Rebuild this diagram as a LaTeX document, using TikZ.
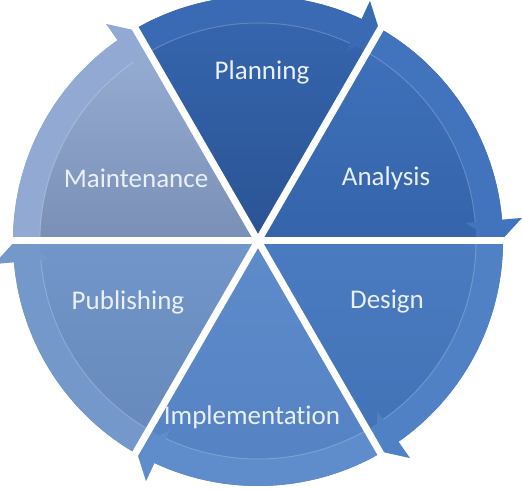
\documentclass[tikz,border=0pt]{standalone}
\usepackage{fontspec}
\setmainfont{Carlito}[Ligatures=NoCommon]
\usetikzlibrary{positioning}
\definecolor{phaseText}{HTML}{EAF0FA}
\definecolor{planTop}{HTML}{3768B2}
\definecolor{planBot}{HTML}{2A5393}
\definecolor{planBand}{HTML}{3A6AB4}
\definecolor{anaTop}{HTML}{3F72BC}
\definecolor{anaBot}{HTML}{3464AA}
\definecolor{anaBand}{HTML}{4273BD}
\definecolor{desTop}{HTML}{4A7BC0}
\definecolor{desBot}{HTML}{4272B6}
\definecolor{desBand}{HTML}{5181C5}
\definecolor{impTop}{HTML}{5E8BCA}
\definecolor{impBot}{HTML}{5381C2}
\definecolor{impBand}{HTML}{5F8CCA}
\definecolor{pubTop}{HTML}{7296C9}
\definecolor{pubBot}{HTML}{6688BB}
\definecolor{pubBand}{HTML}{7598CB}
\definecolor{mainTop}{HTML}{98AFD6}
\definecolor{mainBot}{HTML}{7A8FB6}
\definecolor{mainBand}{HTML}{92AAD3}

\begin{document}
\begin{tikzpicture}[
    x=1pt, y=1pt,
    every node/.style={font=\fontsize{27}{32}\selectfont},
    phase/.style={text=phaseText, inner sep=0pt},
    band/.style={fill=#1},
    rim/.style={draw=white, draw opacity=0.2, line width=1pt},
    gap/.style={draw=white, line width=7pt},
]
    \useasboundingbox (0,0) rectangle (522,489);

    \begin{scope}[shift={(258,248)}]
    % Planning (top)
    \shade[top color=planTop, bottom color=planBot] (0,0) -- (120:245) arc[start angle=120, end angle=60, radius=245] -- cycle;
    \fill[band=planBand] (120:245) arc[start angle=120, end angle=60, radius=245] -- (60:218) arc[start angle=60, end angle=120, radius=218] -- cycle;
    \fill[band=planBand] (59.5:241) -- (65:265) -- (65:208) -- cycle;
    \draw[rim] (120:218) arc[start angle=120, end angle=65, radius=218];

    % Analysis (upper right)
    \shade[top color=anaTop, bottom color=anaBot] (0,0) -- (60:245) arc[start angle=60, end angle=0, radius=245] -- cycle;
    \fill[band=anaBand] (60:245) arc[start angle=60, end angle=0, radius=245] -- (0:218) arc[start angle=0, end angle=60, radius=218] -- cycle;
    \fill[band=anaBand] (-0.5:241) -- (5:265) -- (5:208) -- cycle;
    \draw[rim] (60:218) arc[start angle=60, end angle=5, radius=218];

    % Design (lower right)
    \shade[top color=desTop, bottom color=desBot] (0,0) -- (0:245) arc[start angle=0, end angle=-60, radius=245] -- cycle;
    \fill[band=desBand] (0:245) arc[start angle=0, end angle=-60, radius=245] -- (-60:218) arc[start angle=-60, end angle=0, radius=218] -- cycle;
    \fill[band=desBand] (-60.5:241) -- (-55:265) -- (-55:208) -- cycle;
    \draw[rim] (0:218) arc[start angle=0, end angle=-55, radius=218];

    % Implementation (bottom)
    \shade[top color=impTop, bottom color=impBot] (0,0) -- (-60:245) arc[start angle=-60, end angle=-120, radius=245] -- cycle;
    \fill[band=impBand] (-60:245) arc[start angle=-60, end angle=-120, radius=245] -- (-120:218) arc[start angle=-120, end angle=-60, radius=218] -- cycle;
    \fill[band=impBand] (-120.5:241) -- (-115:265) -- (-115:208) -- cycle;
    \draw[rim] (-60:218) arc[start angle=-60, end angle=-115, radius=218];

    % Publishing (lower left)
    \shade[top color=pubTop, bottom color=pubBot] (0,0) -- (240:245) arc[start angle=240, end angle=180, radius=245] -- cycle;
    \fill[band=pubBand] (240:245) arc[start angle=240, end angle=180, radius=245] -- (180:218) arc[start angle=180, end angle=240, radius=218] -- cycle;
    \fill[band=pubBand] (179.5:241) -- (185:265) -- (185:208) -- cycle;
    \draw[rim] (240:218) arc[start angle=240, end angle=185, radius=218];

    % Maintenance (upper left)
    \shade[top color=mainTop, bottom color=mainBot] (0,0) -- (180:245) arc[start angle=180, end angle=120, radius=245] -- cycle;
    \fill[band=mainBand] (180:245) arc[start angle=180, end angle=120, radius=245] -- (120:218) arc[start angle=120, end angle=180, radius=218] -- cycle;
    \fill[band=mainBand] (119.5:241) -- (125:265) -- (125:208) -- cycle;
    \draw[rim] (180:218) arc[start angle=180, end angle=125, radius=218];

    % White gaps between the phases
    \draw[gap] (0,0) -- (0:280);
    \draw[gap] (0,0) -- (60:280);
    \draw[gap] (0,0) -- (120:280);
    \draw[gap] (0,0) -- (180:280);
    \draw[gap] (0,0) -- (240:280);
    \draw[gap] (0,0) -- (300:280);
    \end{scope}

    % Phase labels
    \node[phase] (planning) at (262,417) {Planning};
    \node[phase] (analysis) at (386,311) {Analysis};
    \node[phase] (design) at (387,187) {Design};
    \node[phase] (implementation) at (252,72) {Implementation};
    \node[phase] (publishing) at (128,187) {Publishing};
    \node[phase] (maintenance) at (136,311) {Maintenance};
\end{tikzpicture}
\end{document}
